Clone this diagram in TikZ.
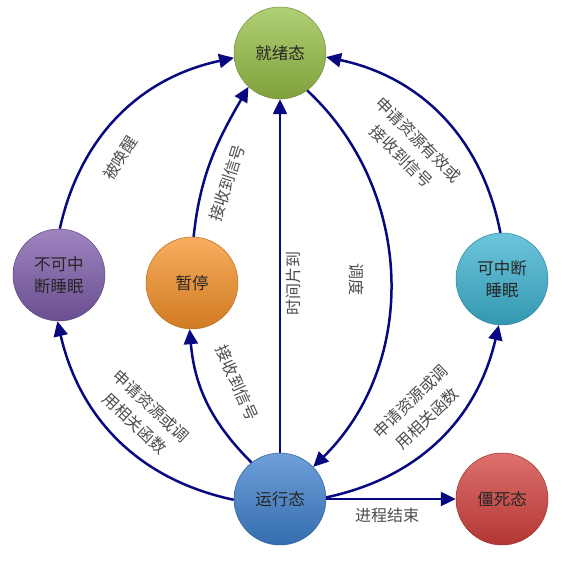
\documentclass[tikz,border=0pt]{standalone}
\usepackage{fontspec}
\newfontfamily\cjk{Noto Sans CJK SC}
\usetikzlibrary{arrows.meta}
\definecolor{arrowblue}{RGB}{8,8,128}
\definecolor{ballgreen}{RGB}{150,190,70}
\definecolor{ballpurple}{RGB}{125,92,170}
\definecolor{ballorange}{RGB}{245,145,40}
\definecolor{ballcyan}{RGB}{60,178,208}
\definecolor{ballblue}{RGB}{62,128,205}
\definecolor{ballred}{RGB}{210,64,60}
\tikzset{
  state/.style={circle, minimum size=92pt, inner sep=0pt, align=center,
    font=\cjk\fontsize{16.5}{22}\selectfont, text=black!85,
    top color=#1!75!white, middle color=#1, bottom color=#1!85!black,
    draw=#1!75!black, line width=0.5pt},
  trans/.style={line width=2.5pt, draw=arrowblue,
    -{Triangle[length=15pt,width=14pt]}},
  lbl/.style={font=\cjk\fontsize{16}{24}\selectfont, text=black!70,
    align=center, inner sep=0pt}
}
\begin{document}
\begin{tikzpicture}[x=1pt,y=1pt]
      \useasboundingbox (0,0) rectangle (563,562);
      \draw
        (280,509) node[state=ballgreen] (ready){就绪态}
        (59,287) node[state=ballpurple] (sleepu){不可中\\断睡眠}
        (192,279) node[state=ballorange] (pause){暂停}
        (502,283) node[state=ballcyan] (sleepi){可中断\\睡眠}
        (280,63) node[state=ballblue] (run){运行态}
        (502,63) node[state=ballred] (zombie){僵死态};
      \begin{scope}[trans]
        \draw (sleepu.89) to[out=77.5,in=192] (ready.186);
        \draw (sleepi.92) to[out=101,in=-12] (ready.355);
        \draw (pause.88) to[out=84,in=240] (ready.227);
        \draw (run.north) to (ready.south);
        \draw (ready.-54) to[out=-43,in=44.5] (run.44);
        \draw (run.181) to[out=168,in=283] (sleepu.268);
        \draw (run.128) to[out=135,in=-85] (pause.267);
        \draw (run.2) to[out=12,in=257] (sleepi.266);
        \draw (run.east) to (zombie.west);
      \end{scope}
      \draw
        (120,404) node[lbl, rotate=57] (wake){被唤醒}
        (227,379) node[lbl, rotate=72] (sigup){接收到信号}
        (410,414) node[lbl, rotate=-45] (okres){申请资源有效或\\接收到信号}
        (293,278) node[lbl, rotate=90] (slice){时间片到}
        (357,282) node[lbl, rotate=-90] (sched){调度}
        (143,147) node[lbl, rotate=-43] (requ){申请资源或调\\用相关函数}
        (237,179) node[lbl, rotate=-66] (sigdown){接收到信号}
        (419,152) node[lbl, rotate=44] (reqi){申请资源或调\\用相关函数}
        (387,47) node[lbl] (quit){进程结束};
    \end{tikzpicture}
\end{document}
